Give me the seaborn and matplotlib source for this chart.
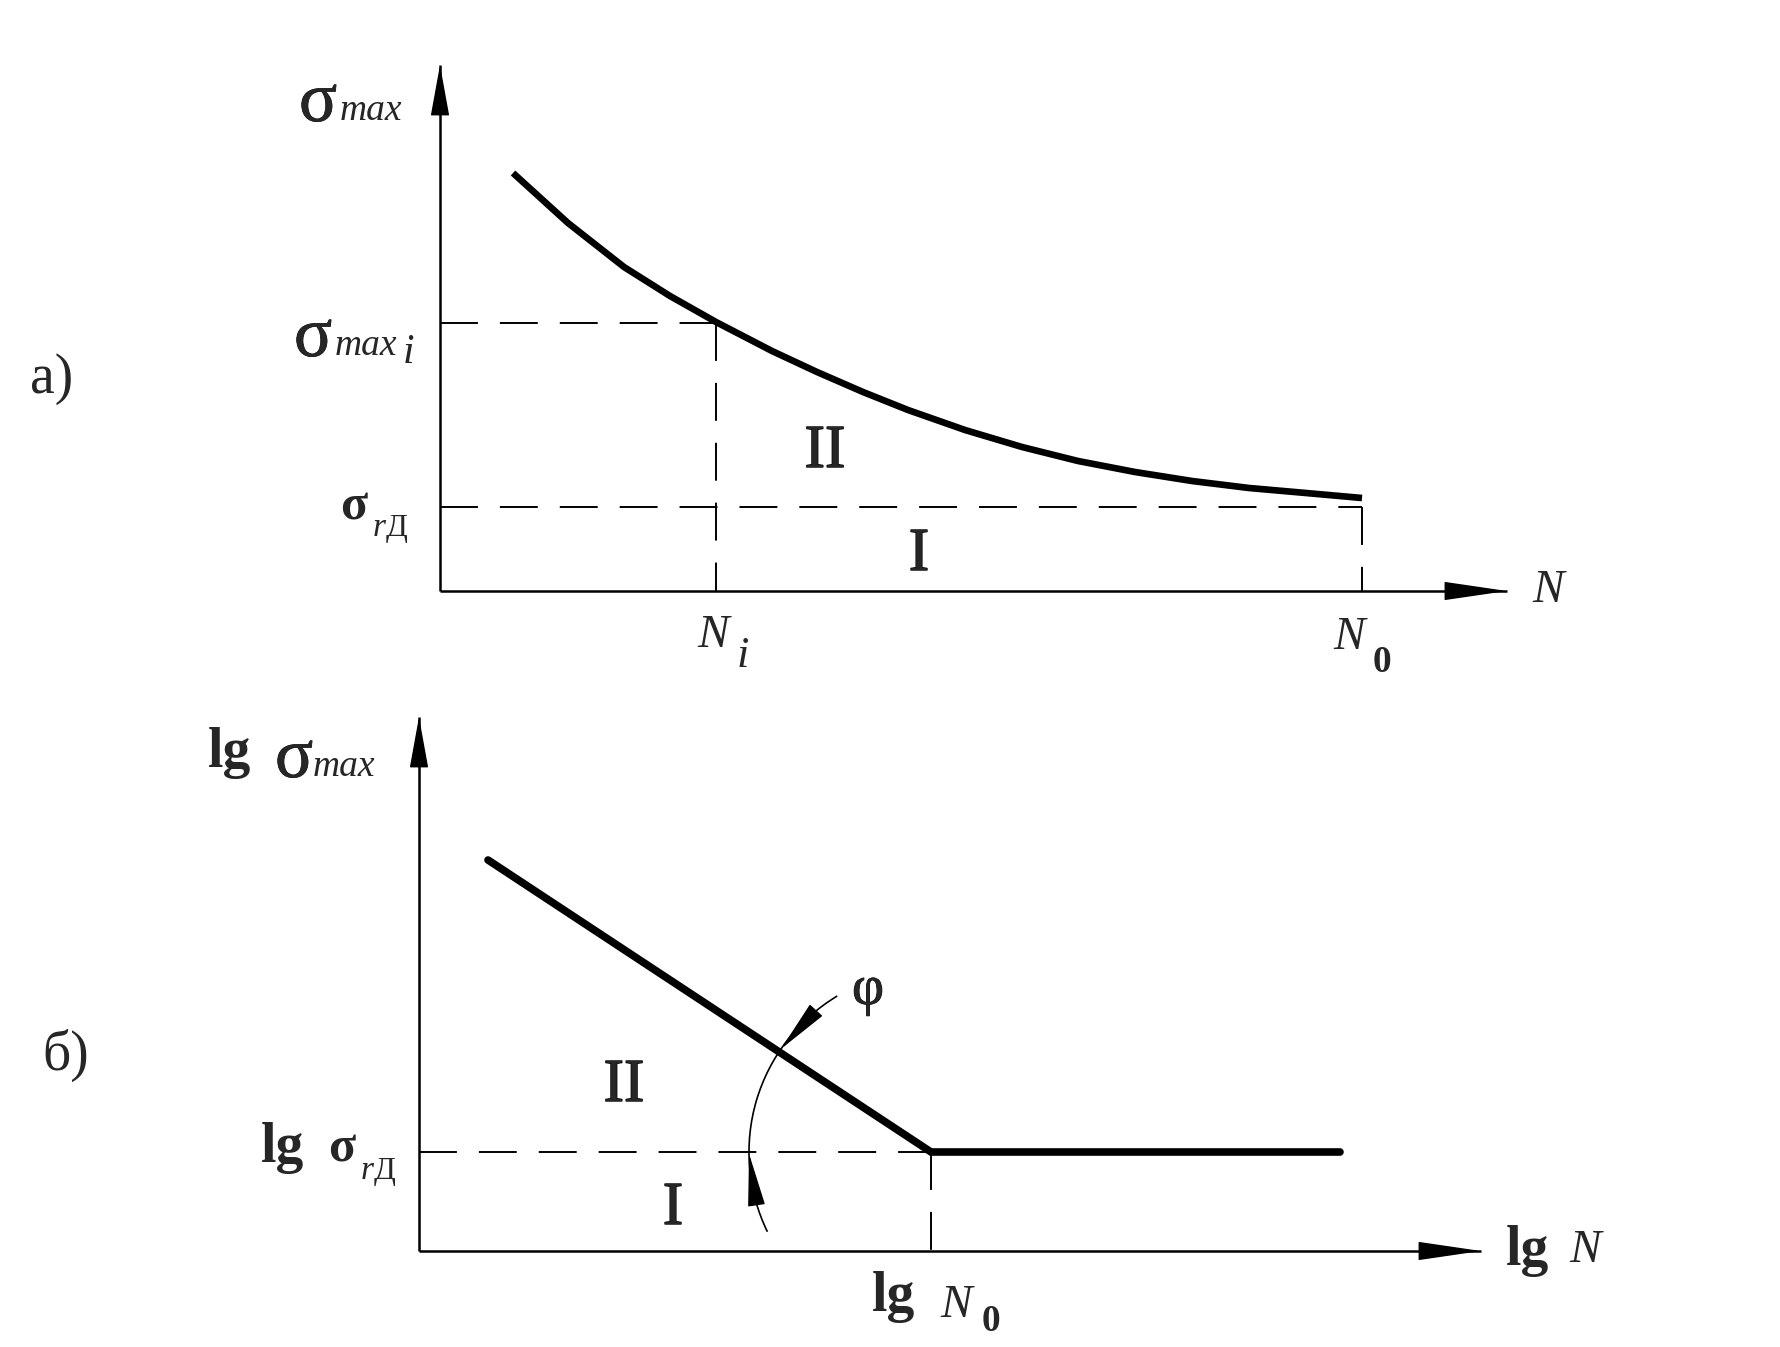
import numpy as np
import pandas as pd
import matplotlib
matplotlib.use("Agg")
import matplotlib.pyplot as plt
from matplotlib.patches import Arc
import matplotlib.patheffects as pe
import seaborn as sns

# ---------------- data (diagram units, 1 unit = 100 px) ----------------
# panel a: fatigue curve sigma_max(N)
curve_N = [0.73, 1.28, 1.84, 2.30, 2.76, 3.32, 3.77, 4.23, 4.68, 5.25,
           5.82, 6.38, 6.95, 7.52, 8.09, 8.66, 9.22]
curve_sigma = [4.18, 3.68, 3.24, 2.95, 2.69, 2.40, 2.19, 1.99, 1.81, 1.61,
               1.44, 1.30, 1.19, 1.10, 1.03, 0.98, 0.93]
N_i = 2.76
sigma_i = 2.68
N_0 = 9.22
sigma_rD = 0.84
axis_a_x_end = 10.67
axis_a_y_end = 5.26

# panel b: log-log diagram
lg_N = [0.69, 5.12, 9.21]
lg_sigma = [3.91, 0.99, 0.99]
lg_N0 = 5.12
lg_sigma_rD = 0.99
axis_b_x_end = 10.62
axis_b_y_end = 5.34
phi_radius = 1.82
phi_theta = [121, 206]

W, H = 1780, 1347

sns.set_theme(style="white")
plt.rcParams["font.family"] = ["Liberation Serif", "DejaVu Serif"]

fig = plt.figure(figsize=(W / 100, H / 100), dpi=100)
fig.patch.set_facecolor("white")

# axes placed so that 1 data unit = 100 px in both directions
# panel a origin at (440, 591) px ; panel b origin at (419, 1251) px
ax_a = fig.add_axes([340 / W, (H - 700) / H, 1300 / W, 660 / H])
ax_a.set_xlim(-1.0, 12.0)
ax_a.set_ylim((591 - 700) / 100, (591 - 40) / 100)
ax_b = fig.add_axes([319 / W, (H - 1330) / H, 1300 / W, 640 / H])
ax_b.set_xlim(-1.0, 12.0)
ax_b.set_ylim((1251 - 1330) / 100, (1251 - 690) / 100)
for ax in (ax_a, ax_b):
    ax.set_axis_off()
    ax.patch.set_alpha(0)

K = "black"
AX_LW = 1.8
DASH = dict(color=K, lw=1.4, dashes=(19.5, 11.3))


def axis_arrows(ax, xend, yend, hx, hy):
    ax.plot([0, xend], [0, 0], color=K, lw=AX_LW, solid_capstyle="butt")
    ax.plot([0, 0], [0, yend], color=K, lw=AX_LW, solid_capstyle="butt")
    ax.annotate("", xy=(xend, 0), xytext=(xend - hx, 0),
                arrowprops=dict(arrowstyle="-|>,head_length=4.1,head_width=0.6",
                                color=K, lw=1, mutation_scale=10,
                                shrinkA=0, shrinkB=0))
    ax.annotate("", xy=(0, yend), xytext=(0, yend - hy),
                arrowprops=dict(arrowstyle="-|>,head_length=3.3,head_width=0.6",
                                color=K, lw=1, mutation_scale=10,
                                shrinkA=0, shrinkB=0))


# ---------------- panel a ----------------
axis_arrows(ax_a, axis_a_x_end, axis_a_y_end, 0.6, 0.5)
df_a = pd.DataFrame({"N": curve_N, "sigma": curve_sigma})
sns.lineplot(data=df_a, x="N", y="sigma", ax=ax_a, color=K, lw=4.8,
             sort=False, estimator=None, solid_capstyle="butt",
             solid_joinstyle="round")
ax_a.plot([0, N_i], [sigma_i, sigma_i], **DASH)
ax_a.plot([N_i, N_i], [sigma_i, 0], **DASH)
ax_a.plot([0, N_0], [sigma_rD, sigma_rD], **DASH)
ax_a.plot([N_0, N_0], [sigma_rD, 0], **DASH)

# ---------------- panel b ----------------
axis_arrows(ax_b, axis_b_x_end, axis_b_y_end, 0.6, 0.5)
df_b = pd.DataFrame({"lgN": lg_N, "lgS": lg_sigma})
sns.lineplot(data=df_b, x="lgN", y="lgS", ax=ax_b, color=K, lw=5.5,
             sort=False, estimator=None, solid_joinstyle="miter")
ax_b.plot([0, lg_N0], [lg_sigma_rD, lg_sigma_rD], **DASH)
ax_b.plot([lg_N0, lg_N0], [lg_sigma_rD, 0], **DASH)

arc = Arc((lg_N0, lg_sigma_rD), 2 * phi_radius, 2 * phi_radius,
          theta1=phi_theta[0], theta2=phi_theta[1], color=K, lw=1.2)
ax_b.add_patch(arc)


def on_arc(deg):
    t = np.deg2rad(deg)
    return (lg_N0 + phi_radius * np.cos(t), lg_sigma_rD + phi_radius * np.sin(t))


ax_b.annotate("", xy=on_arc(145.5), xytext=on_arc(130),
              arrowprops=dict(arrowstyle="-|>,head_length=3.4,head_width=0.55",
                              color=K, lw=1, mutation_scale=10,
                              shrinkA=0, shrinkB=0))
ax_b.annotate("", xy=on_arc(180.5), xytext=on_arc(196),
              arrowprops=dict(arrowstyle="-|>,head_length=3.4,head_width=0.55",
                              color=K, lw=1, mutation_scale=10,
                              shrinkA=0, shrinkB=0))


# ---------------- texts (pixel positions, baseline) ----------------
def ptxt(px, py, s, size, style="normal", weight="normal", ha="left", thick=0):
    t = fig.text(px / W, 1 - py / H, s, fontsize=size, fontstyle=style,
                 fontweight=weight, ha=ha, va="baseline",
                 family=["Liberation Serif", "DejaVu Serif"])
    if thick:
        t.set_path_effects([pe.withStroke(linewidth=thick, foreground=K)])


SIG = 51
MAX = 27
# panel a
ptxt(299, 121, "σ", SIG, thick=0.5)
ptxt(340, 120, "max", MAX, style="italic")
ptxt(294, 356, "σ", SIG, thick=0.5)
ptxt(335, 355, "max", MAX, style="italic")
ptxt(403, 363, "i", 30, style="italic")
ptxt(340, 519, "σ", 36, weight="bold")
ptxt(373, 536, "r", 24, style="italic")
ptxt(386, 536, "Д", 23)
ptxt(825, 467, "II", 44, ha="center", thick=1.0)
ptxt(919, 570, "I", 44, ha="center", thick=1.0)
ptxt(697, 647, "N", 34, style="italic")
ptxt(737, 667, "i", 32, style="italic")
ptxt(1333, 649, "N", 34, style="italic")
ptxt(1373, 672, "0", 27, weight="bold")
ptxt(1532, 602, "N", 34, style="italic")
ptxt(30, 393, "a)", 40)

# panel b
ptxt(208, 767, "lg", 40, weight="bold")
ptxt(275, 777, "σ", SIG, thick=0.5)
ptxt(313, 776, "max", MAX, style="italic")
ptxt(261, 1162, "lg", 40, weight="bold")
ptxt(328, 1162, "σ", 36, weight="bold")
ptxt(361, 1179, "r", 24, style="italic")
ptxt(374, 1179, "Д", 23)
ptxt(624, 1101, "II", 44, ha="center", thick=1.0)
ptxt(673, 1224, "I", 44, ha="center", thick=1.0)
ptxt(868, 1004, "φ", 40, ha="center", thick=0.6)
ptxt(872, 1311, "lg", 40, weight="bold")
ptxt(940, 1317, "N", 34, style="italic")
ptxt(982, 1331, "0", 27, weight="bold")
ptxt(1506, 1265, "lg", 40, weight="bold")
ptxt(1569, 1262, "N", 34, style="italic")
ptxt(42, 1070, "б)", 40)

fig.savefig("out.png", dpi=100, facecolor="white")
